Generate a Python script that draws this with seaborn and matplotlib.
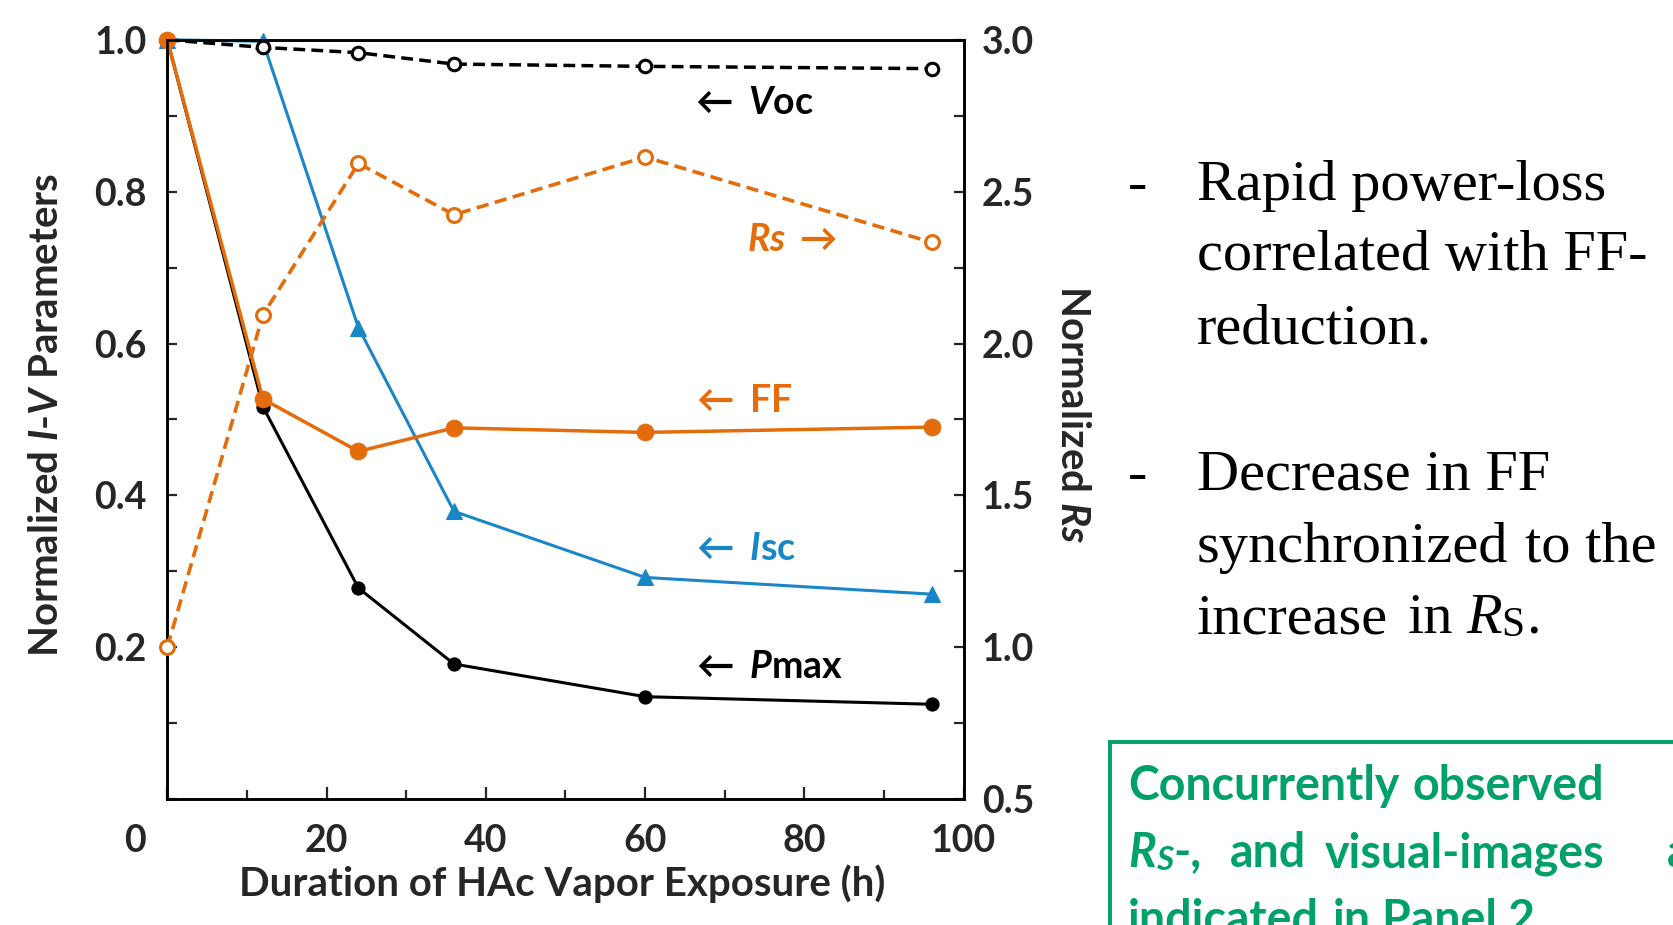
# I-V parameter decay under HAc vapor exposure

import numpy as np
import pandas as pd
import seaborn as sns
import matplotlib.pyplot as plt
from matplotlib.patches import Rectangle
from matplotlib.ticker import MultipleLocator

hours = [0, 12, 24, 36, 60, 96]
voc = [1.0, 0.990, 0.983, 0.968, 0.965, 0.962]
isc = [1.0, 0.998, 0.621, 0.379, 0.292, 0.270]
ff = [1.0, 0.527, 0.458, 0.489, 0.483, 0.490]
pmax = [1.0, 0.517, 0.278, 0.178, 0.135, 0.125]
rs = [1.0, 2.094, 2.593, 2.424, 2.614, 2.333]

x_ticks = [0, 20, 40, 60, 80, 100]
left_ticks = [0.2, 0.4, 0.6, 0.8, 1.0]
right_ticks = [0.5, 1.0, 1.5, 2.0, 2.5, 3.0]

ORANGE = "#E46C0A"
BLUE = "#1A86C8"
GREEN = "#00A06B"
SERIF = "Liberation Serif"
W, H = 1673, 925  # figure size in pixels, used to place the side notes


def px(x, y):
    return x / W, 1 - y / H


def chain(ax, x, y, parts, **common):
    # first piece sits on a figure-fraction baseline, the rest follow its bbox
    prev = None
    for text, style in parts:
        kw = dict(common)
        kw.update(style)
        gap = kw.pop("gap", 0)
        if prev is None:
            prev = ax.annotate(text, xy=(x, y), xycoords="figure fraction",
                               va="baseline", ha="left", **kw)
        else:
            prev = ax.annotate(text, xy=(1, 0), xycoords=prev,
                               xytext=(gap, 0), textcoords="offset points",
                               va="bottom", ha="left", **kw)
    return prev


def make_plot():
    sns.set_theme(style="ticks")
    plt.rcParams["font.family"] = ["Lato", "DejaVu Sans"]
    plt.rcParams["font.weight"] = "bold"
    plt.rcParams["mathtext.fontset"] = "custom"
    plt.rcParams["mathtext.rm"] = "Lato:bold"
    plt.rcParams["mathtext.it"] = "Lato:bold:italic"
    plt.rcParams["mathtext.bf"] = "Lato:bold"
    plt.rcParams["mathtext.fallback"] = "stixsans"

    fig = plt.figure(figsize=(16.73, 9.25), dpi=100)
    fig.patch.set_facecolor("white")
    ax = fig.add_axes([0.100, 0.136, 0.476, 0.821])

    df = pd.DataFrame({"hours": hours, "Voc": voc, "Isc": isc, "FF": ff,
                       "Pmax": pmax, "Rs": rs})

    sns.lineplot(data=df, x="hours", y="Pmax", ax=ax, color="black", lw=2.2,
                 marker="o", markersize=9.5, markeredgecolor="black",
                 clip_on=False, zorder=3)
    sns.lineplot(data=df, x="hours", y="Isc", ax=ax, color=BLUE, lw=2.2,
                 marker="^", markersize=11.5, markeredgecolor=BLUE,
                 clip_on=False, zorder=3)
    sns.lineplot(data=df, x="hours", y="Voc", ax=ax, color="black", lw=2.5,
                 linestyle=(0, (3.4, 1.8)), marker="o", markersize=9,
                 markerfacecolor="white", markeredgecolor="black",
                 markeredgewidth=2.2, clip_on=False, zorder=4)
    sns.lineplot(data=df, x="hours", y="FF", ax=ax, color=ORANGE, lw=2.5,
                 marker="o", markersize=12, markeredgecolor=ORANGE,
                 clip_on=False, zorder=5)

    ax2 = ax.twinx()
    sns.lineplot(data=df, x="hours", y="Rs", ax=ax2, color=ORANGE, lw=2.6,
                 linestyle=(0, (3.4, 1.8)), marker="o", markersize=10,
                 markerfacecolor="white", markeredgecolor=ORANGE,
                 markeredgewidth=2.2, clip_on=False, zorder=4)

    ax.set_xlim(0, 100)
    ax.set_ylim(0, 1.0)
    ax2.set_ylim(0.5, 3.0)
    for a in (ax, ax2):
        a.set_xlabel("")
        a.set_ylabel("")
        for s in a.spines.values():
            s.set_linewidth(1.9)
            s.set_color("black")

    ax.set_xticks(x_ticks, ["" if t == 0 else str(t) for t in x_ticks])
    ax.xaxis.set_minor_locator(MultipleLocator(10))
    ax.set_yticks(left_ticks, [f"{t:.1f}" for t in left_ticks])
    ax.yaxis.set_minor_locator(MultipleLocator(0.1))
    ax2.set_yticks(right_ticks, [f"{t:.1f}" for t in right_ticks])
    ax2.yaxis.set_minor_locator(MultipleLocator(0.25))

    ax.tick_params(axis="x", which="major", direction="in", length=9,
                   width=1.6, pad=18, labelsize=27)
    ax.tick_params(axis="x", which="minor", direction="in", length=6.5,
                   width=1.6)
    ax.tick_params(axis="y", which="both", direction="in", length=7.5,
                   width=1.6, pad=15, labelsize=27)
    ax2.tick_params(axis="y", which="both", direction="in", length=7.5,
                    width=1.6, pad=13, labelsize=27)
    for lab in ax.get_xticklabels() + ax.get_yticklabels() + ax2.get_yticklabels():
        lab.set_fontweight("bold")

    # the lone "0" sits left of the origin, as in the source
    ax.annotate("0", xy=(0, 0), xycoords="axes fraction", xytext=(-23, -18),
                textcoords="offset points", ha="center", va="top",
                fontsize=27, fontweight="bold")

    # axis titles
    fig.text(0.028, 0.552, r"Normalized $\mathit{I}$-$\mathit{V}$ Parameters",
             rotation=90, ha="center", va="center", fontsize=29)
    fig.text(0.336, 0.045, "Duration of HAc Vapor Exposure (h)",
             ha="center", va="center", fontsize=29)
    fig.text(0.641, 0.552, r"Normalized $\mathit{Rs}$", rotation=270,
             ha="center", va="center", fontsize=29)

    # series tags
    tag = dict(ha="left", va="center", fontsize=27)
    ax.text(65.6, 0.917, r"$\leftarrow$ $\mathit{V}$oc", color="black", **tag)
    ax.text(72.8, 0.736, r"$\mathit{Rs}$ $\rightarrow$", color=ORANGE, **tag)
    ax.text(65.8, 0.525, r"$\leftarrow$ FF", color=ORANGE, **tag)
    ax.text(65.8, 0.329, r"$\leftarrow$ $\mathit{I}$sc", color=BLUE, **tag)
    ax.text(65.8, 0.174, r"$\leftarrow$ $\mathit{P}$max", color="black", **tag)

    # bullet notes
    serif = dict(family=SERIF, fontsize=42, fontweight="normal", color="black")
    lines = [
        (200, "Rapid power-loss", True),
        (270, "correlated with FF-", False),
        (343, "reduction.", False),
        (490, "Decrease in FF", True),
        (562, "synchronized", False),
        (633, "increase", False),
    ]
    for y, s, dash in lines:
        if dash:
            fig.text(*px(1128, y), "-", ha="left", va="baseline", **serif)
        fig.text(*px(1197, y), s, ha="left", va="baseline", **serif)
    fig.text(*px(1525, 562), "to the", ha="left", va="baseline", **serif)
    fig.text(*px(1408, 633), "in", ha="left", va="baseline", **serif)
    chain(ax, *px(1466, 633), [
        ("R", {"style": "italic"}),
        ("S", {"fontsize": 30}),
        (".", {"gap": 1}),
    ], **serif)

    # green conclusion box, running off the page; words sit where the
    # justified source lines put them
    fig.add_artist(Rectangle(px(1110, 1000), 0.5, (1000 - 742) / H,
                             transform=fig.transFigure, fill=False,
                             edgecolor=GREEN, linewidth=2.8))
    green = dict(fontsize=33.5, fontweight="bold", color=GREEN, family="Lato")
    words = [
        (1128, 800, "Concurrently"), (1413, 800, "observed"),
        (1230, 867, "and"), (1325, 867, "visual-images"), (1667, 867, "a"),
        (1128, 934, "indicated"), (1333, 934, "in"), (1382, 934, "Panel 2"),
    ]
    for x, y, s in words:
        fig.text(*px(x, y), s, ha="left", va="baseline", **green)
    chain(ax, *px(1128, 867), [
        ("R", {"style": "italic"}),
        ("S", {"style": "italic", "fontsize": 24}),
        ("-,", {}),
    ], **green)

    fig.savefig("out.png", dpi=100, facecolor="white")


if __name__ == "__main__":
    make_plot()
